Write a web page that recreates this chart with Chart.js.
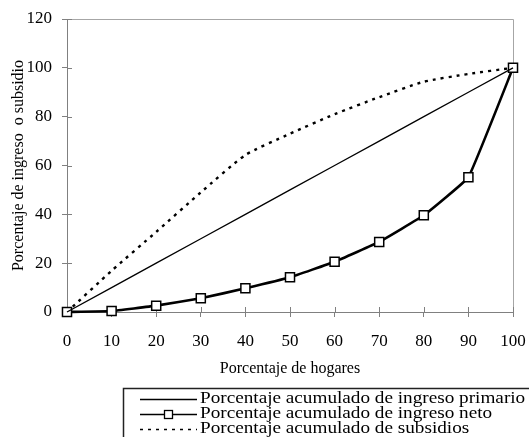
<!DOCTYPE html>
<html>
<head>
<meta charset="utf-8">
<script src="https://cdn.jsdelivr.net/npm/chart.js@4/dist/chart.umd.min.js"></script>
<style>
  html, body { margin: 0; padding: 0; background: #fff; }
</style>
</head>
<body>
<canvas id="curvas" width="529" height="437"></canvas>
<script>
// valores
const hogares = [0, 10, 20, 30, 40, 50, 60, 70, 80, 90, 100];
const ingresoPrimario = [0, 10, 20, 30, 40, 50, 60, 70, 80, 90, 100];
const ingresoNeto = [0, 0.4, 2.6, 5.6, 9.7, 14.2, 20.6, 28.7, 39.6, 55.2, 100];
const subsidios = [0, 16.9, 32.8, 49, 64.3, 73, 81, 88, 94.3, 97.5, 100];
const yTicks = [0, 20, 40, 60, 80, 100, 120];
const xTicks = [0, 10, 20, 30, 40, 50, 60, 70, 80, 90, 100];
const nombres = [
  'Porcentaje acumulado de ingreso primario',
  'Porcentaje acumulado de ingreso neto',
  'Porcentaje acumulado de subsidios'
];

const serif = '"Liberation Serif", "DejaVu Serif", serif';
const gris = '#808080';

function pares(ys) {
  return hogares.map((x, i) => ({ x: x, y: ys[i] }));
}

// marco superior/derecho y marcas hacia dentro
const marco = {
  id: 'marco',
  beforeDatasetsDraw(chart) {
    const { ctx, chartArea: a, scales } = chart;
    ctx.save();
    ctx.strokeStyle = '#a6a6a6';
    ctx.lineWidth = 1;
    ctx.beginPath();
    ctx.moveTo(a.left, a.top + 0.5);
    ctx.lineTo(a.right + 0.5, a.top + 0.5);
    ctx.lineTo(a.right + 0.5, a.bottom);
    ctx.stroke();
    ctx.strokeStyle = gris;
    ctx.beginPath();
    xTicks.forEach(v => {
      const px = Math.round(scales.x.getPixelForValue(v)) + 0.5;
      ctx.moveTo(px, a.bottom);
      ctx.lineTo(px, a.bottom - 5);
    });
    yTicks.forEach(v => {
      const py = Math.round(scales.y.getPixelForValue(v)) + 0.5;
      ctx.moveTo(a.left, py);
      ctx.lineTo(a.left + 5, py);
    });
    ctx.stroke();
    ctx.restore();
  }
};

// leyenda en recuadro, una serie por fila
const leyenda = {
  id: 'leyenda',
  afterDraw(chart) {
    const ctx = chart.ctx;
    const filas = [399, 414, 429];
    ctx.save();
    ctx.strokeStyle = '#222';
    ctx.lineWidth = 1.5;
    ctx.strokeRect(123.5, 388.5, 430, 60);
    chart.data.datasets.forEach((ds, i) => {
      const y = filas[i] + 0.5;
      ctx.strokeStyle = '#000';
      ctx.lineWidth = 1.3;
      ctx.setLineDash(ds.borderDash || []);
      ctx.beginPath();
      ctx.moveTo(140, y);
      ctx.lineTo(197, y);
      ctx.stroke();
      ctx.setLineDash([]);
      if (ds.pointRadius > 0) {
        ctx.fillStyle = '#fff';
        ctx.fillRect(164.5, y - 4, 8, 8);
        ctx.strokeRect(164.5, y - 4, 8, 8);
      }
      // texto algo ensanchado como en el original
      ctx.save();
      ctx.translate(200, filas[i]);
      ctx.scale(1.2, 1);
      ctx.font = '16px ' + serif;
      ctx.textBaseline = 'middle';
      ctx.fillStyle = '#000';
      ctx.fillText(ds.label, 0, 0);
      ctx.restore();
    });
    ctx.restore();
  }
};

new Chart(document.getElementById('curvas'), {
  type: 'line',
  data: {
    datasets: [
      {
        label: nombres[0],
        data: pares(ingresoPrimario),
        borderColor: '#000',
        borderWidth: 1.3,
        pointRadius: 0,
        tension: 0,
        clip: false
      },
      {
        label: nombres[1],
        data: pares(ingresoNeto),
        borderColor: '#000',
        borderWidth: 2.6,
        pointStyle: 'rect',
        pointRadius: 6.4,
        pointBackgroundColor: '#fff',
        pointBorderColor: '#000',
        pointBorderWidth: 1.5,
        tension: 0.08,
        clip: false
      },
      {
        label: nombres[2],
        data: pares(subsidios),
        borderColor: '#000',
        borderWidth: 2.4,
        borderDash: [3, 5],
        pointRadius: 0,
        tension: 0.2,
        clip: false
      }
    ]
  },
  options: {
    responsive: false,
    animation: false,
    devicePixelRatio: 1,
    layout: { padding: { left: 0, right: 16, top: 19, bottom: 45 } },
    plugins: {
      legend: { display: false },
      tooltip: { enabled: false }
    },
    scales: {
      x: {
        type: 'linear',
        min: 0,
        max: 100,
        afterFit(s) { s.height = 80; s.paddingLeft = 0; s.paddingRight = 0; },
        afterBuildTicks(s) { s.ticks = xTicks.map(v => ({ value: v })); },
        border: { color: gris, width: 1 },
        grid: { drawOnChartArea: false, tickLength: 5, color: gris },
        ticks: { color: '#000', padding: 14, font: { family: serif, size: 17 }, maxRotation: 0 },
        title: {
          display: true,
          text: 'Porcentaje de hogares',
          color: '#000',
          font: { family: serif, size: 16 },
          padding: { top: 0, bottom: 14 }
        }
      },
      y: {
        min: 0,
        max: 120,
        afterFit(s) { s.width = 67; s.paddingTop = 0; s.paddingBottom = 0; },
        afterBuildTicks(s) { s.ticks = yTicks.map(v => ({ value: v })); },
        border: { color: gris, width: 1 },
        grid: { drawOnChartArea: false, tickLength: 5, color: gris },
        ticks: { color: '#000', padding: 10, font: { family: serif, size: 17 } },
        title: {
          display: true,
          text: 'Porcentaje de ingreso  o subsidio',
          color: '#000',
          font: { family: serif, size: 16 },
          padding: { top: 9, bottom: 0 }
        }
      }
    }
  },
  plugins: [marco, leyenda]
});
</script>
</body>
</html>
